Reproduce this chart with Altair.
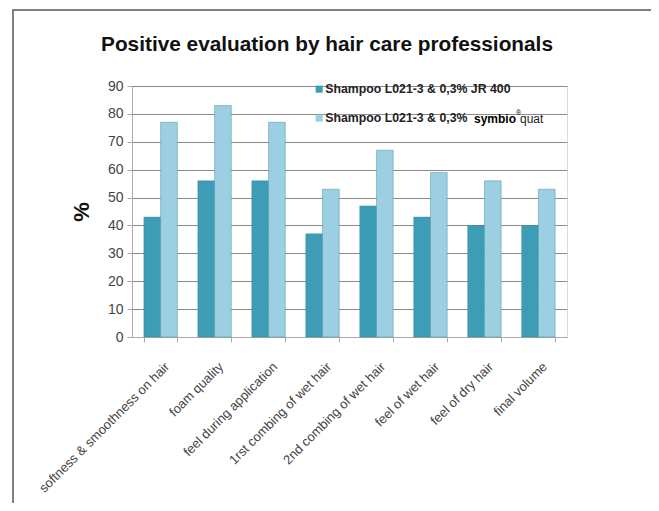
import altair as alt
import pandas as pd

categories = [
    "softness & smoothness on hair",
    "foam quality",
    "feel during application",
    "1rst combing of wet hair",
    "2nd combing of wet hair",
    "feel of wet hair",
    "feel of dry hair",
    "final volume",
]
series_names = [
    "Shampoo L021-3 & 0,3% JR 400",
    "Shampoo L021-3 & 0,3% symbio\u00aequat",
]
jr400 = [43, 56, 56, 37, 47, 43, 40, 40]
symbioquat = [77, 83, 77, 53, 67, 59, 56, 53]
y_ticks = [0, 10, 20, 30, 40, 50, 60, 70, 80, 90]
colors = ["#3E9DB6", "#9BCFE1"]
title_text = "Positive evaluation by hair care professionals"

rows = []
for i, c in enumerate(categories):
    rows.append({"category": c, "series": series_names[0], "value": jr400[i]})
    rows.append({"category": c, "series": series_names[1], "value": symbioquat[i]})
df = pd.DataFrame(rows)

FONT = "Liberation Sans"
one = pd.DataFrame({"k": [0]})

bars = alt.Chart(df).mark_bar(stroke="#2f7f94", strokeWidth=0.4).encode(
    x=alt.X(
        "category:N",
        sort=categories,
        title=None,
        scale=alt.Scale(paddingInner=0.38, paddingOuter=0.22),
        axis=alt.Axis(
            labelAngle=-45,
            labelAlign="right",
            labelBaseline="top",
            labelPadding=18,
            labelOffset=2,
            labelFont=FONT,
            labelFontSize=13,
            labelColor="#444444",
            tickBand="extent",
            tickColor="#aaaaaa",
            tickSize=5,
            domainColor="#aaaaaa",
            labelLimit=400,
        ),
    ),
    xOffset=alt.XOffset("series:N", sort=series_names),
    y=alt.Y(
        "value:Q",
        title="%",
        scale=alt.Scale(domain=[0, 90], nice=False),
        axis=alt.Axis(
            values=y_ticks,
            labelFont=FONT,
            labelFontSize=14,
            labelColor="#444444",
            labelPadding=4,
            tickColor="#aaaaaa",
            tickSize=5,
            domainColor="#aaaaaa",
            gridColor="#8a8a8a",
            gridWidth=1,
            titleFont=FONT,
            titleFontSize=22,
            titleFontWeight="bold",
            titleColor="#111111",
            titlePadding=14,
        ),
    ),
    color=alt.Color(
        "series:N",
        sort=series_names,
        scale=alt.Scale(domain=series_names, range=colors),
        legend=alt.Legend(
            title=None,
            orient="none",
            legendX=181,
            legendY=-3,
            symbolType="square",
            symbolSize=50,
            symbolStrokeWidth=0,
            labelFont=FONT,
            labelFontSize=12.3,
            labelFontWeight="bold",
            labelColor="#222222",
            labelOffset=0,
            rowPadding=16,
            labelLimit=400,
            labelExpr="replace(datum.label, 'symbio\u00aequat', '')",
        ),
    ),
)

frame = alt.Chart(one).mark_rect(
    fill=None, stroke="#555555", strokeWidth=1.5, clip=False
).encode(
    x=alt.value(-119), x2=alt.value(523), y=alt.value(-76), y2=alt.value(450)
)

title = alt.Chart(one).mark_text(
    text=title_text, font=FONT, fontSize=20.8, fontWeight="bold",
    color="#111111", align="center", baseline="alphabetic", clip=False
).encode(x=alt.value(195), y=alt.value(-35))

symbio = alt.Chart(one).mark_text(
    text="symbio", font=FONT, fontSize=12, fontWeight="bold",
    color="#000000", align="left", baseline="alphabetic"
).encode(x=alt.value(342), y=alt.value(37))
reg = alt.Chart(one).mark_text(
    text="\u00ae", font=FONT, fontSize=7, color="#000000",
    align="left", baseline="alphabetic"
).encode(x=alt.value(384), y=alt.value(29))
quat = alt.Chart(one).mark_text(
    text="quat", font=FONT, fontSize=12, color="#222222",
    align="left", baseline="alphabetic"
).encode(x=alt.value(388), y=alt.value(37))

chart = alt.layer(frame, title, bars, symbio, reg, quat).properties(
    width=435,
    height=251,
    autosize=alt.AutoSizeParams(type="none"),
    padding={"left": 124, "top": 78, "right": 84, "bottom": 166},
).configure_view(stroke=None).configure(background="white")

chart.save("out.html", embed_options={"renderer": "svg", "actions": False})
